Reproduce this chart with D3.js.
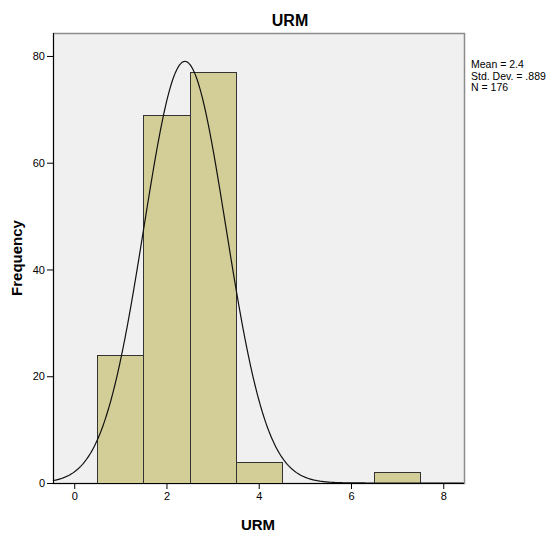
<!DOCTYPE html>
<html>
<head>
<meta charset="utf-8">
<script src="https://d3js.org/d3.v7.min.js"></script>
<style>
body { margin: 0; background: #fff; }
text { font-family: Arial, "Liberation Sans", sans-serif; }
</style>
</head>
<body>
<div id="chart"></div>
<script>
// Data
var binCenters = [1, 2, 3, 4, 7];
var binCounts = [24, 69, 77, 4, 2];
var binWidth = 1;
var xTicks = [0, 2, 4, 6, 8];
var yTicks = [0, 20, 40, 60, 80];
var mean = 2.4, sd = 0.889, n = 176;
var statLines = ["Mean = 2.4", "Std. Dev. = .889", "N = 176"];

var W = 552, H = 539;
var pLeft = 53, pRight = 464, pTop = 33, pBottom = 483;

var x = d3.scaleLinear().domain([-0.46, 8.45]).range([pLeft, pRight]);
var y = d3.scaleLinear().domain([0, 84.3]).range([pBottom, pTop]);

var svg = d3.select("#chart").append("svg")
  .attr("width", W).attr("height", H);

// plot background
svg.append("rect")
  .attr("x", pLeft + 0.5).attr("y", pTop + 0.5)
  .attr("width", pRight - pLeft).attr("height", pBottom - pTop)
  .attr("fill", "#f0f0f0").attr("stroke", "#8c8c8c").attr("stroke-width", 1.5);

// bars
svg.selectAll(".bar")
  .data(binCenters)
  .enter().append("rect")
  .attr("x", (d) => Math.round(x(d - binWidth / 2)) + 0.5)
  .attr("y", (d, i) => Math.round(y(binCounts[i])) + 0.5)
  .attr("width", (d) => Math.round(x(d + binWidth / 2)) - Math.round(x(d - binWidth / 2)))
  .attr("height", (d, i) => Math.round(y(0)) - Math.round(y(binCounts[i])))
  .attr("fill", "#d3ce98")
  .attr("stroke", "#333")
  .attr("stroke-width", 1);

// normal curve
var curvePts = d3.range(-0.46, 8.4501, 0.02).map(function (v) {
  var z = (v - mean) / sd;
  return [v, n * binWidth / (sd * Math.sqrt(2 * Math.PI)) * Math.exp(-0.5 * z * z)];
});
svg.append("path")
  .datum(curvePts)
  .attr("fill", "none")
  .attr("stroke", "#111")
  .attr("stroke-width", 1.2)
  .attr("d", d3.line().x(d => x(d[0])).y(d => y(d[1])));

// axes
var yAxis = svg.append("g")
  .attr("transform", "translate(" + pLeft + ",0)")
  .call(d3.axisLeft(y).tickValues(yTicks).tickSize(6).tickPadding(2));
var xAxis = svg.append("g")
  .attr("transform", "translate(0," + pBottom + ")")
  .call(d3.axisBottom(x).tickValues(xTicks).tickSize(6).tickPadding(3));
[yAxis, xAxis].forEach(function (g) {
  g.select(".domain").attr("stroke", "#000");
  g.selectAll(".tick line").attr("stroke", "#000");
  g.selectAll(".tick text").attr("font-size", 11).attr("fill", "#000")
    .attr("font-family", "Arial, 'Liberation Sans', sans-serif");
});
xAxis.select(".domain").attr("d", "M" + pLeft + ",0.5H" + pRight);
yAxis.select(".domain").attr("d", "M0.5," + pTop + "V" + pBottom);

// title
svg.append("text")
  .attr("x", 290).attr("y", 26)
  .attr("text-anchor", "middle")
  .attr("font-size", 16).attr("font-weight", "bold")
  .text("URM");

// axis titles
svg.append("text")
  .attr("x", 258).attr("y", 530)
  .attr("text-anchor", "middle")
  .attr("font-size", 15).attr("font-weight", "bold")
  .text("URM");
svg.append("text")
  .attr("transform", "translate(22," + (pBottom + pTop) / 2 + ") rotate(-90)")
  .attr("text-anchor", "middle")
  .attr("font-size", 15).attr("font-weight", "bold")
  .text("Frequency");

// stats
svg.append("g").selectAll("text")
  .data(statLines)
  .enter().append("text")
  .attr("x", 471)
  .attr("y", (d, i) => 68 + i * 11.5)
  .attr("font-size", 10.5)
  .text(d => d);
</script>
</body>
</html>
